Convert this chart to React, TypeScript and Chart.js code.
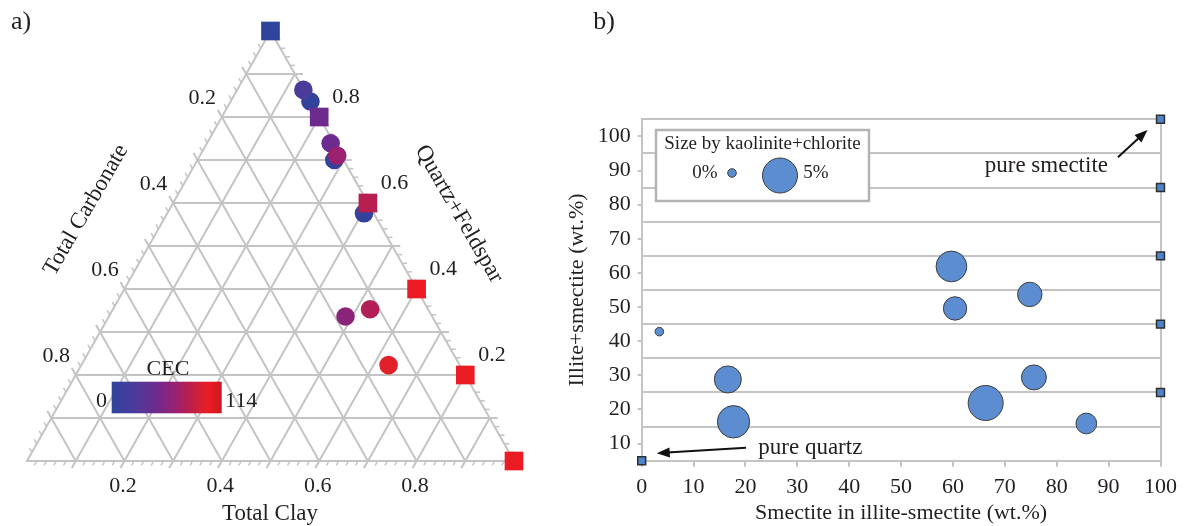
import React, { useEffect, useRef } from "react";
import { Chart, registerables } from "chart.js";

Chart.register(...registerables);

const FONT = '"Liberation Serif", "Times New Roman", serif';
const INK = "#231f20";
const GRID = "#c4c4c4";

// ---------- a) ternary diagram (fractions) ----------
const ternaryQuartzFeldspar = [0.836, 0.7, 0.576, 0.863, 0.739, 0.71, 0.353, 0.336, 0.223, 1.0, 0.8, 0.6, 0.4, 0.2, 0.0];
const ternaryTotalClay = [0.164, 0.281, 0.404, 0.136, 0.254, 0.282, 0.528, 0.486, 0.631, 0.0, 0.2, 0.4, 0.6, 0.8, 1.0];
const ternaryCEC = [2, 5, 3, 23, 45, 66, 77, 59, 96, 0, 46, 80, 100, 100, 100];
const ternaryIsMixture = [false, false, false, false, false, false, false, false, false, true, true, true, true, true, true];
const ternaryTickValues = [0.2, 0.4, 0.6, 0.8];
const ternaryTickLabels = ["0.2", "0.4", "0.6", "0.8"];
const cecMin = 0;
const cecMax = 114;

// ---------- b) bubble chart ----------
const bubbleSmectiteInIS = [3.4, 16.6, 17.7, 59.7, 60.4, 74.8, 75.6, 66.3, 85.7];
const bubbleIlliteSmectite = [42.8, 28.8, 16.4, 61.9, 49.6, 53.7, 29.4, 21.9, 15.9];
const bubbleKaoliniteChlorite = [0, 3.5, 4.5, 4.2, 2.8, 3.0, 3.1, 5.0, 2.3];
const mixSmectiteInIS = [0, 100, 100, 100, 100, 100];
const mixIlliteSmectite = [5, 25, 45, 65, 85, 105];
const xTickValues = [0, 10, 20, 30, 40, 50, 60, 70, 80, 90, 100];
const yTickValues = [10, 20, 30, 40, 50, 60, 70, 80, 90, 100];
const yGridValues = [5, 15, 25, 35, 45, 55, 65, 75, 85, 95, 105];

// ---------- styles ----------
const CEC_STOPS: [number, string][] = [
  [0, "#2f449b"],
  [0.2, "#4b3b9b"],
  [0.4, "#6d2b8f"],
  [0.58, "#9a2170"],
  [0.7, "#b81e50"],
  [0.84, "#e0202a"],
  [0.88, "#ec1c24"],
  [1, "#cc171e"],
];

function hexToRgb(h: string) {
  const n = parseInt(h.slice(1), 16);
  return [(n >> 16) & 255, (n >> 8) & 255, n & 255];
}
function cecColor(v: number) {
  const t = Math.max(0, Math.min(1, (v - cecMin) / (cecMax - cecMin)));
  for (let i = 0; i < CEC_STOPS.length - 1; i++) {
    const [t0, c0] = CEC_STOPS[i];
    const [t1, c1] = CEC_STOPS[i + 1];
    if (t >= t0 && t <= t1) {
      const f = t1 === t0 ? 0 : (t - t0) / (t1 - t0);
      const a = hexToRgb(c0);
      const b = hexToRgb(c1);
      const m = a.map((x, k) => Math.round(x + (b[k] - x) * f));
      return `rgb(${m[0]},${m[1]},${m[2]})`;
    }
  }
  return CEC_STOPS[CEC_STOPS.length - 1][1];
}
const bubbleRadius = (pct: number) => 4.3 + pct * 2.64;
const BUBBLE_FILL = "#5b8dd0";
const BUBBLE_EDGE = "#3d3d3d";

function drawText(ctx: CanvasRenderingContext2D, s: string, x: number, y: number, size: number, align: CanvasTextAlign = "center", rot = 0) {
  ctx.save();
  ctx.translate(x, y);
  if (rot) ctx.rotate(rot);
  ctx.font = `${size}px ${FONT}`;
  ctx.fillStyle = INK;
  ctx.textAlign = align;
  ctx.textBaseline = "middle";
  ctx.fillText(s, 0, 0);
  ctx.restore();
}

function drawArrow(ctx: CanvasRenderingContext2D, x1: number, y1: number, x2: number, y2: number) {
  const dx = x2 - x1, dy = y2 - y1;
  const L = Math.hypot(dx, dy);
  const ux = dx / L, uy = dy / L;
  const head = 13, half = 5;
  ctx.save();
  ctx.strokeStyle = "#111";
  ctx.fillStyle = "#111";
  ctx.lineWidth = 2;
  ctx.beginPath();
  ctx.moveTo(x1, y1);
  ctx.lineTo(x2 - ux * head * 0.8, y2 - uy * head * 0.8);
  ctx.stroke();
  ctx.beginPath();
  ctx.moveTo(x2, y2);
  ctx.lineTo(x2 - ux * head - uy * half, y2 - uy * head + ux * half);
  ctx.lineTo(x2 - ux * head + uy * half, y2 - uy * head - ux * half);
  ctx.closePath();
  ctx.fill();
  ctx.restore();
}

const ternaryPlugin = {
  id: "ternaryFrame",
  beforeDatasetsDraw(chart: any) {
    const ctx: CanvasRenderingContext2D = chart.ctx;
    const xs = chart.scales.x;
    const ys = chart.scales.y;
    const P = (q: number, clay: number): [number, number] => [xs.getPixelForValue(clay + q / 2), ys.getPixelForValue(q)];
    const seg = (a: [number, number], b: [number, number], ext: number) => {
      const dx = b[0] - a[0], dy = b[1] - a[1];
      const L = Math.hypot(dx, dy);
      ctx.beginPath();
      ctx.moveTo(a[0], a[1]);
      ctx.lineTo(b[0] + (dx / L) * ext, b[1] + (dy / L) * ext);
      ctx.stroke();
    };
    const tick = (base: [number, number], from: [number, number], len: number) => {
      const dx = base[0] - from[0], dy = base[1] - from[1];
      const L = Math.hypot(dx, dy);
      ctx.beginPath();
      ctx.moveTo(base[0], base[1]);
      ctx.lineTo(base[0] + (dx / L) * len, base[1] + (dy / L) * len);
      ctx.stroke();
    };
    ctx.save();
    ctx.strokeStyle = GRID;
    ctx.lineWidth = 2;
    for (let i = 1; i < 10; i++) {
      const v = i / 10;
      seg(P(v, 0), P(v, 1 - v), 8);
      seg(P(1 - v, v), P(0, v), 8);
      seg(P(0, 1 - v), P(1 - v, 0), 8);
    }
    ctx.beginPath();
    const c0 = P(0, 0), c1 = P(1, 0), c2 = P(0, 1);
    ctx.moveTo(c0[0], c0[1]);
    ctx.lineTo(c1[0], c1[1]);
    ctx.lineTo(c2[0], c2[1]);
    ctx.closePath();
    ctx.stroke();
    ctx.lineWidth = 1.5;
    for (let j = 1; j < 50; j++) {
      if (j % 5 === 0) continue;
      const v = j / 50;
      tick(P(v, 1 - v), P(v, 0), 5);
      tick(P(0, v), P(1 - v, v), 5);
      tick(P(1 - v, 0), P(0, 1 - v), 5);
    }
    ctx.restore();

    ternaryTickValues.forEach((v, i) => {
      const b = P(0, v);
      drawText(ctx, ternaryTickLabels[i], b[0] - 1.5, b[1] + 25.5, 22);
      const r = P(v, 1 - v);
      drawText(ctx, ternaryTickLabels[i], r[0] + 26.7, r[1] - 19.6, 22);
      const l = P(1 - v, 0);
      drawText(ctx, ternaryTickLabels[i], l[0] - 19.5, l[1] - 19, 22);
    });
    drawText(ctx, "Total Clay", 270, 514, 23);
    drawText(ctx, "Total Carbonate", 86, 210, 23, "center", -Math.PI / 3);
    drawText(ctx, "Quartz+Feldspar", 459, 214, 23, "center", Math.PI / 3);
    drawText(ctx, "a)", 21, 22, 26);

    // CEC colour bar
    const bx = 111.7, by = 381.7, bw = 110, bh = 31.6;
    const g = ctx.createLinearGradient(bx, 0, bx + bw, 0);
    CEC_STOPS.forEach(([t, c]) => g.addColorStop(t, c));
    ctx.fillStyle = g;
    ctx.fillRect(bx, by, bw, bh);
    drawText(ctx, "CEC", 168, 369, 22);
    drawText(ctx, String(cecMin), 107, 401.7, 22, "right");
    drawText(ctx, String(cecMax), 225, 401.7, 22, "left");
  },
};

const bubblePlugin = {
  id: "bubbleExtras",
  afterDraw(chart: any) {
    const ctx: CanvasRenderingContext2D = chart.ctx;
    const ca = chart.chartArea;
    const xs = chart.scales.x;
    const ys = chart.scales.y;
    // size legend
    const bx = ca.left + 14.3, by = ca.top + 10.7, bw = 213, bh = 71;
    ctx.save();
    ctx.fillStyle = "#fff";
    ctx.fillRect(bx, by, bw, bh);
    ctx.strokeStyle = "#b3b3b3";
    ctx.lineWidth = 2.5;
    ctx.strokeRect(bx, by, bw, bh);
    ctx.restore();
    drawText(ctx, "Size by kaolinite+chlorite", bx + bw / 2, by + 14.5, 19);
    drawText(ctx, "0%", bx + 49, by + 43.5, 19);
    drawText(ctx, "5%", bx + 160, by + 43.5, 19);
    const circ = (cx: number, cy: number, r: number) => {
      ctx.save();
      ctx.beginPath();
      ctx.arc(cx, cy, r, 0, Math.PI * 2);
      ctx.fillStyle = BUBBLE_FILL;
      ctx.fill();
      ctx.strokeStyle = BUBBLE_EDGE;
      ctx.lineWidth = 1;
      ctx.stroke();
      ctx.restore();
    };
    circ(bx + 76, by + 43, bubbleRadius(0));
    circ(bx + 124, by + 45.5, bubbleRadius(5));

    // annotations
    drawText(ctx, "pure smectite", xs.getPixelForValue(78), ys.getPixelForValue(91.2), 23);
    drawArrow(ctx, xs.getPixelForValue(91.8), ys.getPixelForValue(93.9), xs.getPixelForValue(97.5), ys.getPixelForValue(101.9));
    drawText(ctx, "pure quartz", xs.getPixelForValue(32.5), ys.getPixelForValue(8.8), 23);
    drawArrow(ctx, xs.getPixelForValue(20.1), ys.getPixelForValue(8.8), xs.getPixelForValue(2.9), ys.getPixelForValue(7.2));
    drawText(ctx, "b)", 44, 22, 26);
  },
};

export default function App() {
  const tRef = useRef<HTMLCanvasElement>(null);
  const bRef = useRef<HTMLCanvasElement>(null);

  useEffect(() => {
    const ternaryPoints = ternaryQuartzFeldspar.map((q, i) => ({ x: ternaryTotalClay[i] + q / 2, y: q }));
    const c1 = new Chart(tRef.current as HTMLCanvasElement, {
      type: "scatter",
      data: {
        datasets: [
          {
            data: ternaryPoints,
            pointStyle: ternaryIsMixture.map((m) => (m ? "rect" : "circle")) as any,
            pointRadius: ternaryIsMixture.map((m) => (m ? 13.2 : 9.3)),
            backgroundColor: ternaryCEC.map(cecColor),
            borderWidth: 0,
            clip: false as any,
          },
        ],
      },
      options: {
        responsive: false,
        animation: false,
        devicePixelRatio: 1,
        events: [],
        layout: { padding: { left: 27, right: 46, top: 31, bottom: 65 } },
        scales: {
          x: { type: "linear", min: 0, max: 1, display: false },
          y: { type: "linear", min: 0, max: 1, display: false },
        },
        plugins: { legend: { display: false }, tooltip: { enabled: false } },
      },
      plugins: [ternaryPlugin],
    });

    const tickFont = { family: FONT, size: 22 };
    const c2 = new Chart(bRef.current as HTMLCanvasElement, {
      type: "bubble",
      data: {
        datasets: [
          {
            data: bubbleSmectiteInIS.map((x, i) => ({ x, y: bubbleIlliteSmectite[i], r: bubbleRadius(bubbleKaoliniteChlorite[i]) })),
            backgroundColor: BUBBLE_FILL,
            borderColor: BUBBLE_EDGE,
            borderWidth: 1,
            clip: false as any,
          },
          {
            data: mixSmectiteInIS.map((x, i) => ({ x, y: mixIlliteSmectite[i], r: 5.6 })),
            pointStyle: "rect",
            backgroundColor: "#4f84c9",
            borderColor: "#2f2f2f",
            borderWidth: 1.5,
            clip: false as any,
          } as any,
        ],
      },
      options: {
        responsive: false,
        animation: false,
        devicePixelRatio: 1,
        events: [],
        layout: { padding: { left: 0, right: 20.3, top: 119.3, bottom: 0 } },
        scales: {
          x: {
            type: "linear",
            min: 0,
            max: 100,
            afterBuildTicks: (s: any) => {
              s.ticks = xTickValues.map((value) => ({ value }));
            },
            afterFit: (s: any) => {
              s.height = 65.3;
            },
            grid: {
              color: (c: any) => (c.tick && c.tick.value === 100 ? GRID : "rgba(0,0,0,0)"),
              tickColor: GRID,
              tickLength: 6,
              lineWidth: 2,
            },
            border: { display: true, color: GRID, width: 2 },
            ticks: { font: tickFont, color: INK, padding: 7, maxRotation: 0, autoSkip: false },
            title: { display: true, text: "Smectite in illite-smectite (wt.%)", font: { family: FONT, size: 22 }, color: INK, padding: { top: 0, bottom: 0 } },
          },
          y: {
            type: "linear",
            position: "left",
            min: 5,
            max: 105,
            afterBuildTicks: (s: any) => {
              s.ticks = yTickValues.map((value) => ({ value }));
            },
            afterFit: (s: any) => {
              s.width = 81.7;
            },
            grid: { drawOnChartArea: false, color: GRID, tickLength: 4, lineWidth: 2 },
            border: { display: true, color: GRID, width: 2 },
            ticks: { font: tickFont, color: INK, padding: 7, autoSkip: false },
            title: { display: true, text: "Illite+smectite (wt.%)", font: { family: FONT, size: 22 }, color: INK, padding: { top: 4, bottom: 0 } },
          },
          yGrid: {
            type: "linear",
            position: "left",
            min: 5,
            max: 105,
            afterBuildTicks: (s: any) => {
              s.ticks = yGridValues.map((value) => ({ value }));
            },
            afterFit: (s: any) => {
              s.width = 0;
            },
            grid: { drawOnChartArea: true, drawTicks: false, color: GRID, lineWidth: 2 },
            border: { display: false },
            ticks: { display: false },
          },
        } as any,
        plugins: { legend: { display: false }, tooltip: { enabled: false } },
      },
      plugins: [bubblePlugin],
    });

    return () => {
      c1.destroy();
      c2.destroy();
    };
  }, []);

  return (
    <div style={{ position: "absolute", left: 0, top: 0, width: 1184, height: 526, background: "#fff", overflow: "hidden" }}>
      <canvas ref={tRef} width={560} height={526} style={{ position: "absolute", left: 0, top: 0, width: 560, height: 526 }} />
      <canvas ref={bRef} width={624} height={526} style={{ position: "absolute", left: 560, top: 0, width: 624, height: 526 }} />
    </div>
  );
}
